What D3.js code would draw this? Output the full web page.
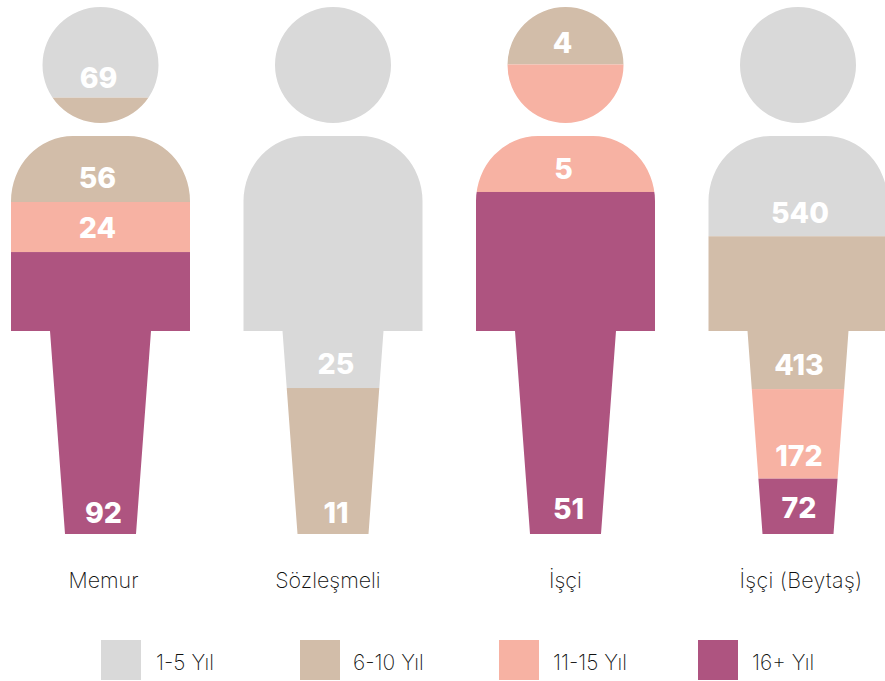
<!DOCTYPE html>
<html lang="tr">
<head>
<meta charset="utf-8">
<script src="https://cdnjs.cloudflare.com/ajax/libs/d3/7.8.5/d3.min.js"></script>
<style>
  html, body { margin: 0; padding: 0; background: #fff; overflow: hidden; }
  svg { display: block; }
  text { font-family: Inter, "Open Sans", sans-serif; }
  .value { font-size: 28.5px; font-weight: 800; fill: #fff; text-anchor: middle; }
  .cat { font-size: 21.4px; font-weight: 200; fill: #111; text-anchor: middle; }
  .leg { font-size: 21px; font-weight: 200; fill: #111; }
</style>
</head>
<body>
<div id="chart"></div>
<script>
const categories = ["Memur", "Sözleşmeli", "İşçi", "İşçi (Beytaş)"];
const seriesNames = ["1-5 Yıl", "6-10 Yıl", "11-15 Yıl", "16+ Yıl"];
const seriesColors = ["#d9d9d9", "#d2bda9", "#f7b2a3", "#ae5480"];

// printed numbers, one per series (null = not shown)
const memurValues = [69, 56, 24, 92];
const sozlesmeliValues = [25, 11, null, null];
const isciValues = [null, 4, 5, 51];
const beytasValues = [540, 413, 172, 72];

// the figures are not drawn to scale with the numbers,
// so the filled share of figure height (%) is read off the picture
const memurShare = [17.2, 19.8, 9.5, 53.5];
const sozlesmeliShare = [72.3, 27.7, 0, 0];
const isciShare = [0, 10.9, 24.2, 64.9];
const beytasShare = [43.5, 29.0, 17.0, 10.5];

// where each number sits, % of figure height
const memurLabelAt = [15.3, 34.3, 43.8, 97.9];
const sozlesmeliLabelAt = [69.6, 97.9, null, null];
const isciLabelAt = [null, 8.7, 32.6, 97.2];
const beytasLabelAt = [41.0, 69.8, 87.1, 97.0];

const allValues = [memurValues, sozlesmeliValues, isciValues, beytasValues];
const allShares = [memurShare, sozlesmeliShare, isciShare, beytasShare];
const allLabelAt = [memurLabelAt, sozlesmeliLabelAt, isciLabelAt, beytasLabelAt];
// labels are nudged sideways by hand in the original
const labelNudge = [[-2, -3, -3, 3], [3, 3, 0, 0], [0, -3, -2, 3], [2, 1, 1, 1]];

const width = 885, height = 681;

const svg = d3.select("#chart")
  .append("svg")
    .attr("width", width)
    .attr("height", height);

const x = d3.scalePoint().domain(categories).range([100.5, 798]);
const y = d3.scaleLinear().domain([0, 100]).range([7, 534]);
const color = d3.scaleOrdinal().domain(seriesNames).range(seriesColors);
const legendX = d3.scalePoint().domain(seriesNames).range([101, 698]);

// Stack the shares
const table = categories.map((c, i) => {
  const row = {category: c};
  seriesNames.forEach((s, j) => { row[s] = allShares[i][j]; });
  return row;
});
const stacked = d3.stack().keys(seriesNames)(table);

// Person outline around its own centre line
function personPath() {
  return "M-58,65a58,58 0 1,0 116,0a58,58 0 1,0 -116,0Z"
    + "M-89.5,331V201A62,65 0 0 1 -27.5,136H27.5A62,65 0 0 1 89.5,201V331"
    + "H50.5L35.5,534H-35.5L-50.5,331Z";
}

const defs = svg.append("defs");
categories.forEach((c, i) => {
  defs.append("clipPath")
    .attr("id", "person" + i)
    .attr("transform", `translate(${x(c)},0)`)
    .append("path")
      .attr("d", personPath());
});

const figures = svg.selectAll("g.figure")
  .data(categories)
  .enter().append("g")
    .attr("class", "figure");

figures.append("g")
    .attr("clip-path", (d, i) => `url(#person${i})`)
  .selectAll("rect")
  .data((d, i) => stacked.map(s => ({key: s.key, y0: s[i][0], y1: s[i][1], category: d})))
  .enter().append("rect")
    .attr("x", d => x(d.category) - 95)
    .attr("width", 190)
    .attr("y", d => y(d.y0))
    .attr("height", d => y(d.y1) - y(d.y0))
    .attr("fill", d => color(d.key));

// Numbers
categories.forEach((c, i) => {
  allValues[i].forEach((v, j) => {
    if (v === null) return;
    svg.append("text")
      .attr("class", "value")
      .attr("x", x(c) + labelNudge[i][j])
      .attr("y", y(allLabelAt[i][j]))
      .text(v);
  });
});

// Category names
svg.append("g").selectAll("text")
  .data(categories)
  .enter().append("text")
    .attr("class", "cat")
    .attr("x", (d, i) => x(d) + [3, -5, 0, 3][i])
    .attr("y", 588)
    .style("letter-spacing", (d, i) => i === 3 ? "0.3px" : null)
    .text(d => d);

// Legend
const legend = svg.append("g").selectAll("g")
  .data(seriesNames)
  .enter().append("g")
    .attr("transform", d => `translate(${legendX(d)},640)`);
legend.append("rect")
    .attr("width", 40)
    .attr("height", 40)
    .attr("fill", d => color(d));
legend.append("text")
    .attr("class", "leg")
    .attr("x", (d, i) => [55, 53, 54, 54][i])
    .attr("y", 30)
    .text(d => d);
</script>
</body>
</html>
